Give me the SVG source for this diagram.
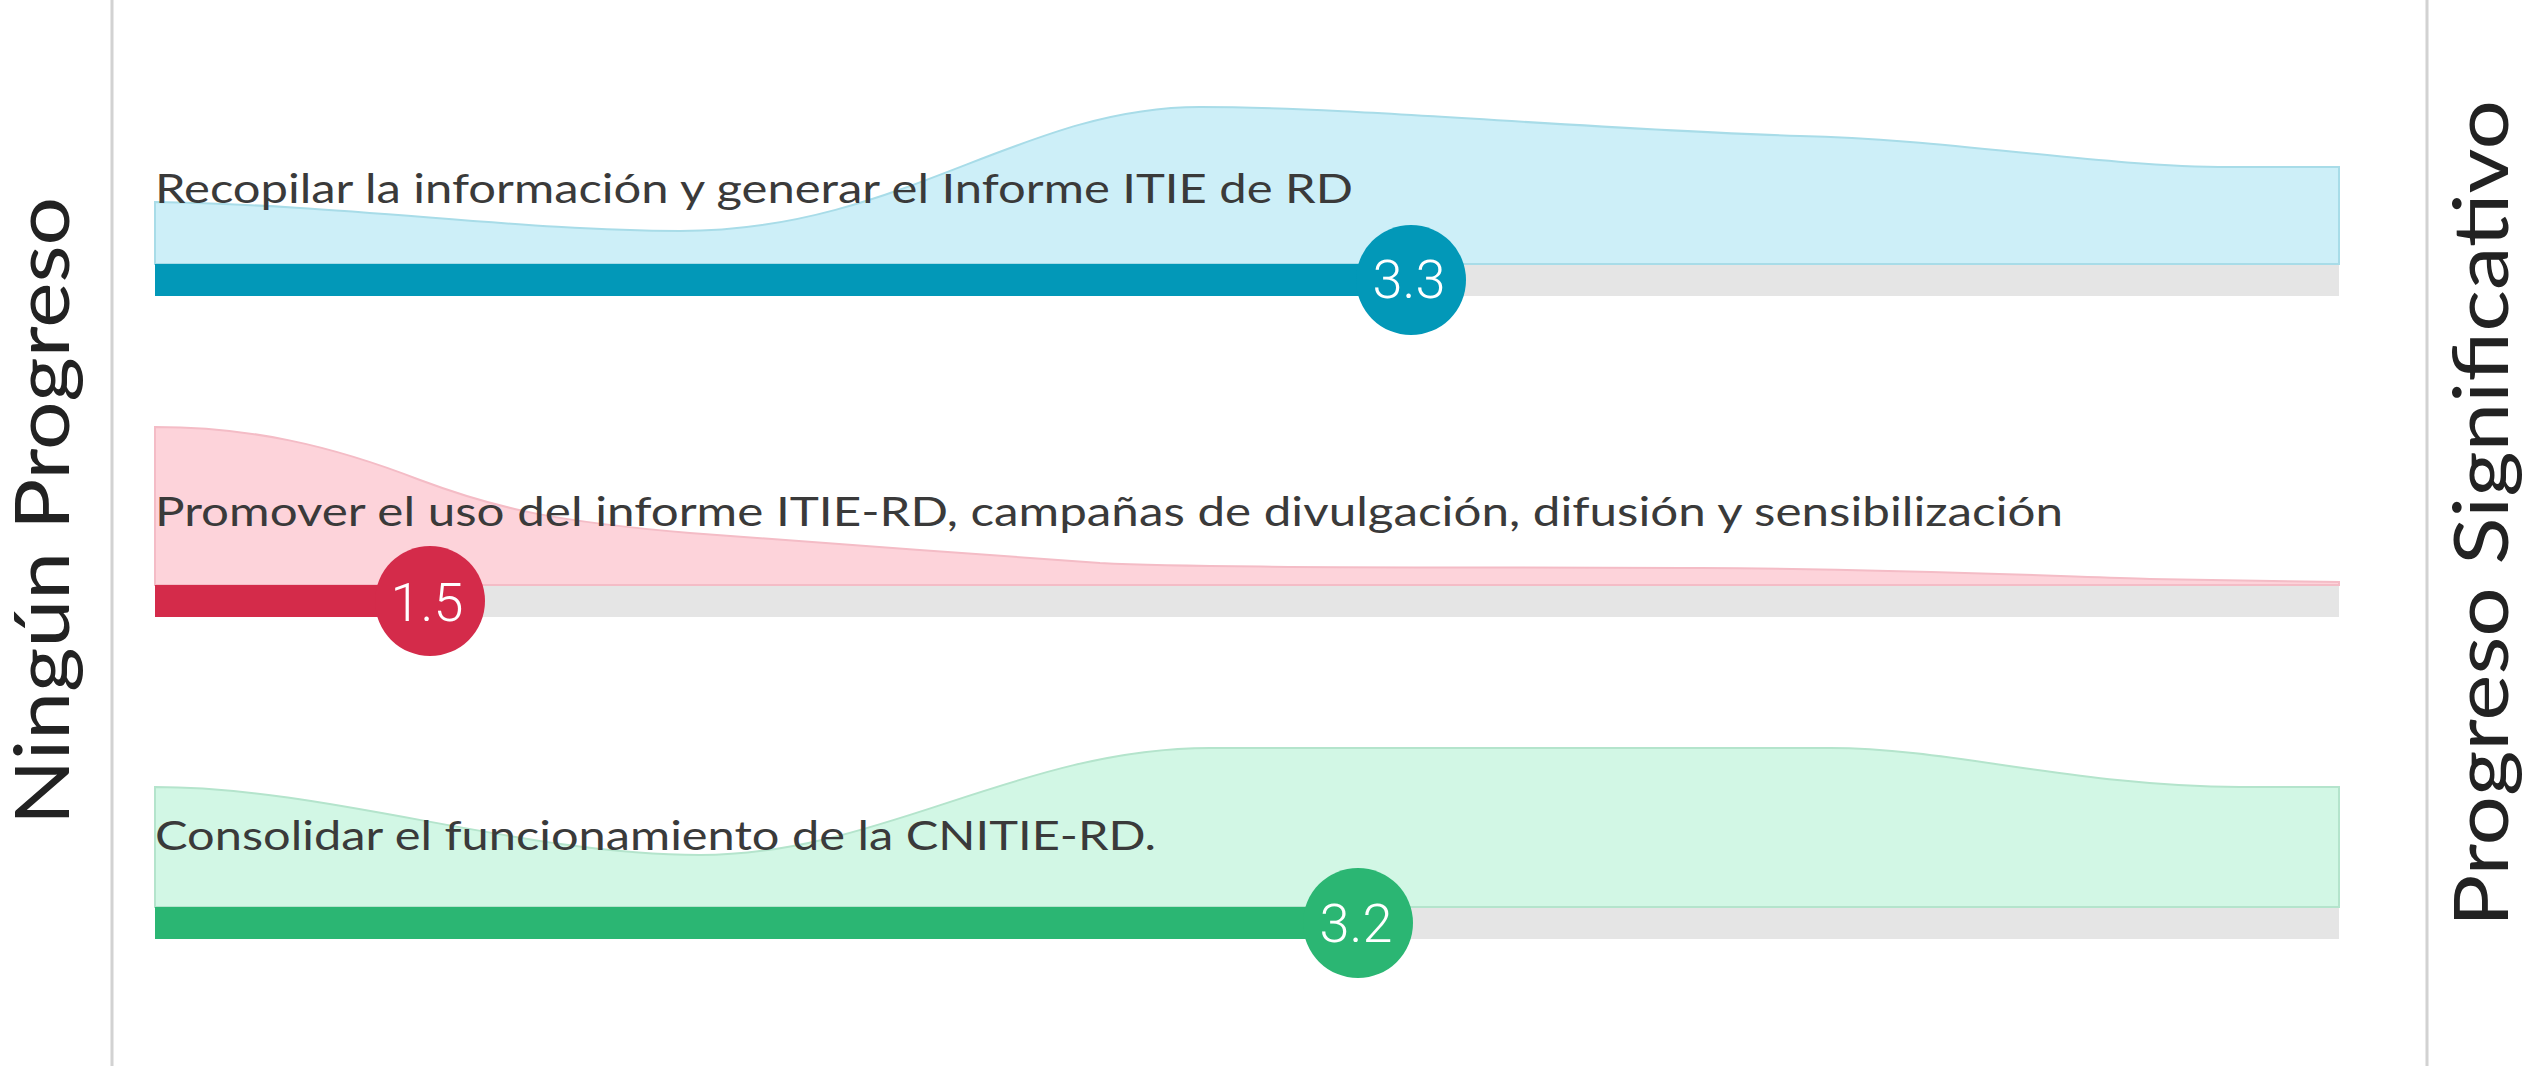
<svg xmlns="http://www.w3.org/2000/svg" width="2527" height="1066" viewBox="0 0 2527 1066">
<style>
.axis{stroke:#d2d2d2;stroke-width:3;fill:none}
.side{font-family:Lato,"Open Sans",sans-serif;font-weight:400;font-size:76px;fill:#222}
.lbl{font-family:Lato,"Open Sans",sans-serif;font-size:40px;fill:#3a3a3a}
.num{font-family:Roboto,"Liberation Sans",sans-serif;font-weight:300;font-size:54px;fill:#fff;text-anchor:middle}
.track{fill:#e5e5e5}
</style>
<rect width="2527" height="1066" fill="#fff"/>
<g id="axes">
<line class="axis" x1="112" y1="0" x2="112" y2="1066"/>
<line class="axis" x1="2427" y1="0" x2="2427" y2="1066"/>
<text class="side" transform="translate(69,825) rotate(-90)" textLength="628" lengthAdjust="spacingAndGlyphs">Ningún Progreso</text>
<text class="side" transform="translate(2508,927) rotate(-90)" textLength="827" lengthAdjust="spacingAndGlyphs">Progreso Significativo</text>
</g>
<g id="row1">
<rect class="track" x="155" y="264" width="2184" height="32"/>
<path d="M155,202 C350,205 520,231 680,231 C900,231 1020,107 1200,107 C1350,107 1600,130 1800,136 C1950,139 2100,167 2230,167 L2339,167 L2339,264 L155,264 Z" fill="#cdeff8" stroke="#a8dce8" stroke-width="2"/>
<rect x="155" y="264" width="1256" height="32" fill="#0298b8"/>
<text class="lbl" x="155" y="203" textLength="1198" lengthAdjust="spacingAndGlyphs">Recopilar la información y generar el Informe ITIE de RD</text>
<circle cx="1411" cy="280" r="55" fill="#0298b8"/>
<text class="num" x="1409" y="298">3.3</text>
</g>
<g id="row2">
<rect class="track" x="155" y="585" width="2184" height="32"/>
<path d="M155,427 C250,427 330,445 420,480 C500,510 560,522 690,533 C850,545 950,552 1100,563 C1200,568 1400,567 1700,568 C1900,569 2050,576 2150,579 L2339,582 L2339,585 L155,585 Z" fill="#fdd3da" stroke="#f4bcc6" stroke-width="2"/>
<rect x="155" y="585" width="275" height="32" fill="#d42b4a"/>
<text class="lbl" x="155" y="526" textLength="1908" lengthAdjust="spacingAndGlyphs">Promover el uso del informe ITIE-RD, campañas de divulgación, difusión y sensibilización</text>
<circle cx="430" cy="601" r="55" fill="#d42b4a"/>
<text class="num" x="427" y="621">1.5</text>
</g>
<g id="row3">
<rect class="track" x="155" y="907" width="2184" height="32"/>
<path d="M155,787 C330,787 520,855 700,855 C880,855 1020,748 1210,748 L1830,748 C1950,748 2080,787 2240,787 L2339,787 L2339,907 L155,907 Z" fill="#d2f7e5" stroke="#b4e4cc" stroke-width="2"/>
<rect x="155" y="907" width="1203" height="32" fill="#2bb673"/>
<text class="lbl" x="155" y="850" textLength="1001" lengthAdjust="spacingAndGlyphs">Consolidar el funcionamiento de la CNITIE-RD.</text>
<circle cx="1358" cy="923" r="55" fill="#2bb673"/>
<text class="num" x="1356" y="942">3.2</text>
</g>
</svg>
